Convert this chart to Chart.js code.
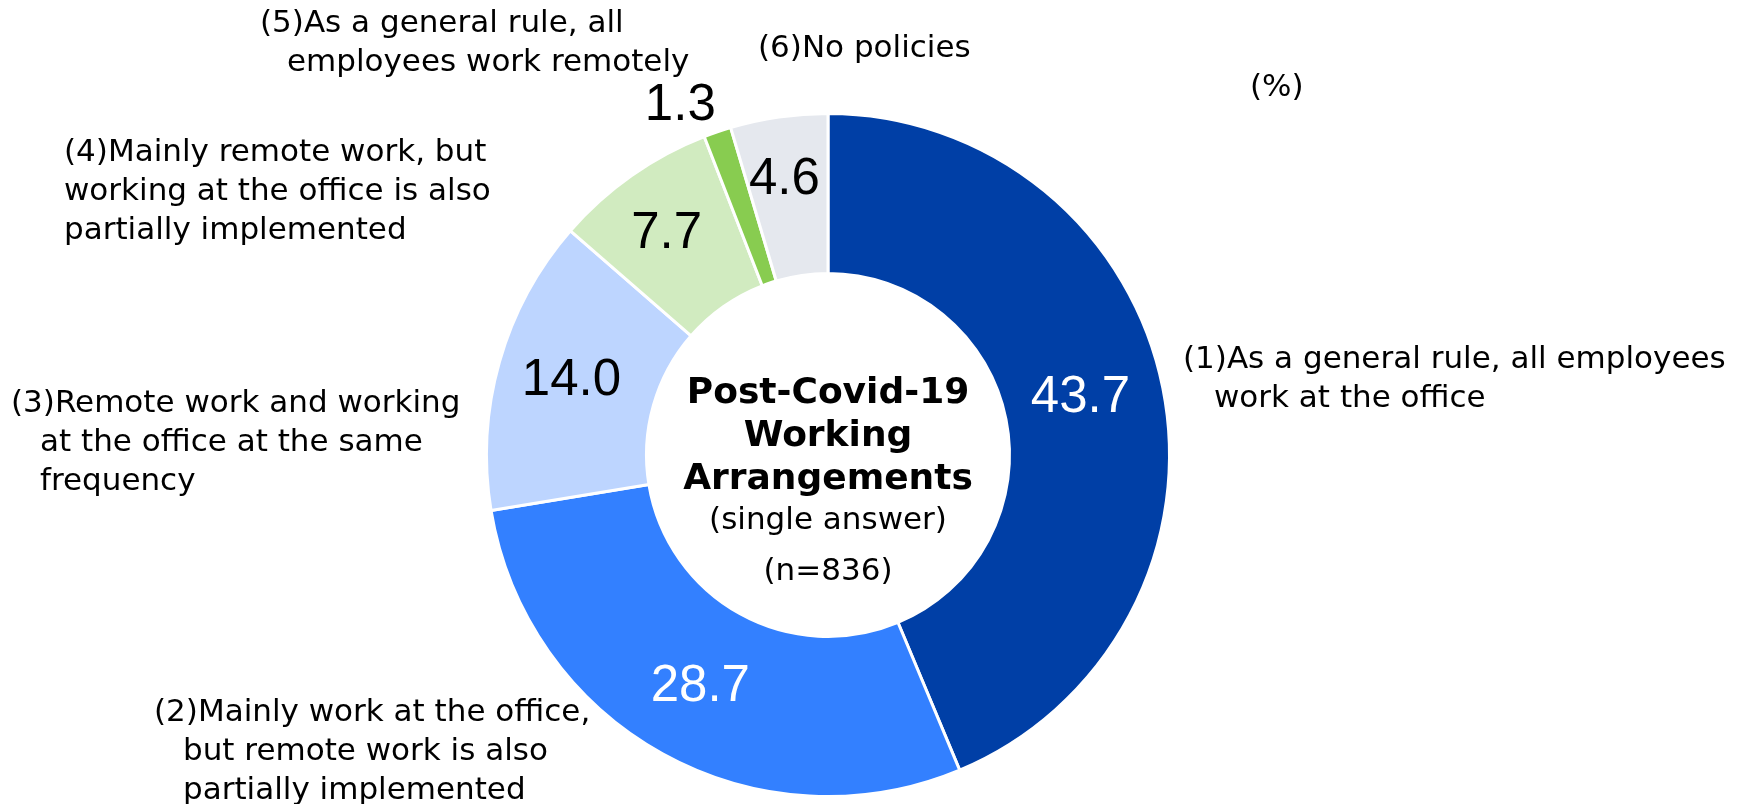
<!DOCTYPE html>
<html>
<head>
<meta charset="utf-8">
<title>Post-Covid-19 Working Arrangements</title>
<script src="https://cdn.jsdelivr.net/npm/chart.js@4.4.1/dist/chart.umd.min.js"></script>
<style>
  body { margin: 0; background: #fff; }
  #wrap { width: 1744px; height: 804px; }
</style>
</head>
<body>
<div id="wrap"><canvas id="donut" width="1744" height="804"></canvas></div>
<script>
"use strict";

// category names, split the way they wrap in the original
var categories = [
    ["(1)As a general rule, all employees", "work at the office"],
    ["(2)Mainly work at the office,", "but remote work is also", "partially implemented"],
    ["(3)Remote work and working", "at the office at the same", "frequency"],
    ["(4)Mainly remote work, but", "working at the office is also", "partially implemented"],
    ["(5)As a general rule, all", "employees work remotely"],
    ["(6)No policies"]
];
var shares = [43.7, 28.7, 14.0, 7.7, 1.3, 4.6]; // %
var centerTitle = ["Post-Covid-19", "Working", "Arrangements"];
var centerNote = ["(single answer)", "(n=836)"];
var unitLabel = "(%)";

var sliceColors = ["#003fa6", "#3380ff", "#bdd5ff", "#d1ebc0", "#88cc50", "#e5e8ee"];
var valueColors = ["#ffffff", "#ffffff", "#000000", "#000000", "#000000", "#000000"];

// where the text goes (canvas px)
var valueNudge = [[-4, -6], [-1, 3], [-5, -3], [-11, -7], [-63, -102], [-6, -16]];
var namePos = [
    { x: 1183, y: 360, indent: 31 },
    { x: 154, y: 713, indent: 29 },
    { x: 11, y: 404, indent: 29 },
    { x: 64, y: 153, indent: 0 },
    { x: 260, y: 24, indent: 27 },
    { x: 758, y: 49, indent: 0 }
];
var lineGap = 39;

var labelPlugin = {
    id: "sliceLabels",
    afterDatasetsDraw: function (chart) {
        var ctx = chart.ctx;
        var meta = chart.getDatasetMeta(0);
        var cx = meta.data[0].x, cy = meta.data[0].y;
        ctx.save();

        // values inside the ring
        ctx.font = '51px "Liberation Sans", Arial, sans-serif';
        ctx.textAlign = "center";
        ctx.textBaseline = "middle";
        meta.data.forEach(function (arc, i) {
            var p = arc.tooltipPosition();
            ctx.fillStyle = valueColors[i];
            ctx.fillText(shares[i].toFixed(1), p.x + valueNudge[i][0], p.y + valueNudge[i][1]);
        });

        // category names
        ctx.font = '31px "DejaVu Sans", sans-serif';
        ctx.textAlign = "left";
        ctx.fillStyle = "#000";
        categories.forEach(function (lines, i) {
            var pos = namePos[i];
            lines.forEach(function (line, j) {
                ctx.fillText(line, pos.x + (j > 0 ? pos.indent : 0), pos.y + j * lineGap);
            });
        });
        ctx.fillText(unitLabel, 1250, 88);

        // centre text
        ctx.textAlign = "center";
        ctx.font = 'bold 36px "DejaVu Sans", sans-serif';
        centerTitle.forEach(function (t, j) {
            ctx.fillText(t, cx, cy - 61 + j * 43);
        });
        ctx.font = '31px "DejaVu Sans", sans-serif';
        ctx.fillText(centerNote[0], cx, cy + 66);
        ctx.fillText(centerNote[1], cx, cy + 117);
        ctx.restore();
    }
};

new Chart(document.getElementById("donut"), {
    type: "doughnut",
    data: {
        labels: categories.map(function (c) { return c.join(" "); }),
        datasets: [{
            data: shares,
            backgroundColor: sliceColors,
            borderColor: "#ffffff",
            borderWidth: 3
        }]
    },
    options: {
        responsive: false,
        animation: false,
        radius: 341.5,
        cutout: "53.15%",
        layout: { padding: { left: 0, right: 88, top: 106, bottom: 0 } },
        plugins: {
            legend: { display: false },
            tooltip: { enabled: false }
        }
    },
    plugins: [labelPlugin]
});
</script>
</body>
</html>
